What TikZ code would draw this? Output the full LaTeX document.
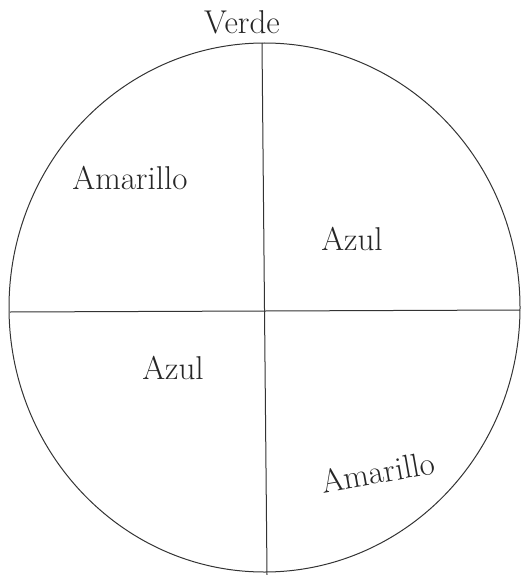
\documentclass[tikz,border=0pt]{standalone}
\usepackage{tikz}
\tikzset{
  sector/.style={font=\fontsize{33}{38}\selectfont, text=black!85, inner sep=0pt},
  pen/.style={black!80, line width=1pt}
}

\begin{document}
\begin{tikzpicture}[x=1pt, y=-1pt]
        \useasboundingbox (0,0) rectangle (521,575);
        \draw[pen] (264.5,307.5) ellipse [x radius=255.5, y radius=264.5];
        \coordinate (top) at (262,43);
        \coordinate (bottom) at (267,575);
        \coordinate (left) at (10,312);
        \coordinate (right) at (520,310);
        \draw[pen] (top) -- (bottom);
        \draw[pen] (left) -- (right);
        \node[sector] (verde) at (242,22) {Verde};
        \node[sector] (amarillo1) at (130,178) {Amarillo};
        \node[sector] (azul1) at (352,239) {Azul};
        \node[sector] (azul2) at (173,368) {Azul};
        \node[sector, rotate=10] (amarillo2) at (378,472) {Amarillo};
      \end{tikzpicture}
\end{document}
